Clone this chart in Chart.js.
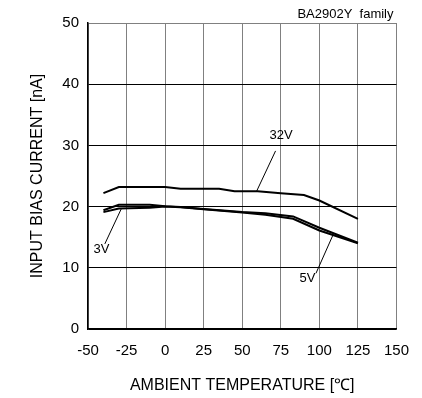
<!DOCTYPE html>
<html>
<head>
<meta charset="utf-8">
<script src="https://cdn.jsdelivr.net/npm/chart.js@4.4.1/dist/chart.umd.min.js"></script>
<style>
  html, body { margin: 0; padding: 0; background: #ffffff; }
  #wrap { width: 422px; height: 398px; position: relative; }
</style>
</head>
<body>
<div id="wrap"><canvas id="c" width="422" height="398"></canvas></div>
<script>
// ---- data ----
const xTickLabels = [-50, -25, 0, 25, 50, 75, 100, 125, 150];
const yTickLabels = [0, 10, 20, 30, 40, 50];

const temps32V = [-40, -30, 0, 10, 35, 45, 60, 75, 90, 100, 125];
const bias32V  = [22.2, 23.2, 23.2, 22.9, 22.9, 22.5, 22.5, 22.2, 21.9, 21.0, 18.0];

const temps3V = [-40, -30, -10, 0, 10, 25, 50, 65, 83, 100, 125];
const bias3V  = [19.4, 20.3, 20.3, 20.05, 19.95, 19.6, 19.1, 18.9, 18.4, 16.55, 14.1];

const temps5V = [-40, -30, -10, 0, 10, 25, 50, 65, 83, 100, 125];
const bias5V  = [19.1, 19.7, 19.8, 20.0, 19.9, 19.55, 19.05, 18.65, 18.0, 16.1, 14.0];

// curve labels: text, label position and leader line (data units)
const curveLabels   = ['32V', '3V', '5V'];
const labelAt       = [[75.2, 31.7], [-41.2, 13.0], [92.3, 8.3]];
const leaderFrom    = [[71.6, 29.1], [-39.1, 13.9], [97.8, 9.1]];
const leaderTo      = [[59.3, 22.5], [-28.5, 19.6], [108.9, 15.4]];

const familyText = 'BA2902Y  family';
const xTitle = 'AMBIENT TEMPERATURE [℃]';
const yTitle = 'INPUT BIAS CURRENT [nA]';

function pts(xs, ys) { return xs.map((x, i) => ({ x: x, y: ys[i] })); }

const FONT = "'Liberation Sans', Arial, sans-serif";

const annotPlugin = {
  id: 'annot',
  afterDatasetsDraw(chart) {
    const { ctx, scales: { x, y }, chartArea } = chart;
    ctx.save();
    ctx.strokeStyle = '#000';
    ctx.lineWidth = 1;
    for (let i = 0; i < curveLabels.length; i++) {
      ctx.beginPath();
      ctx.moveTo(x.getPixelForValue(leaderFrom[i][0]), y.getPixelForValue(leaderFrom[i][1]));
      ctx.lineTo(x.getPixelForValue(leaderTo[i][0]), y.getPixelForValue(leaderTo[i][1]));
      ctx.stroke();
      ctx.fillStyle = '#000';
      ctx.font = '13px ' + FONT;
      ctx.textAlign = 'center';
      ctx.textBaseline = 'middle';
      ctx.fillText(curveLabels[i], x.getPixelForValue(labelAt[i][0]), y.getPixelForValue(labelAt[i][1]));
    }
    ctx.font = '13px ' + FONT;
    ctx.textAlign = 'right';
    ctx.textBaseline = 'middle';
    ctx.fillStyle = '#000';
    ctx.fillText(familyText, chartArea.right - 3, chartArea.top - 9);
    ctx.restore();
  }
};

new Chart(document.getElementById('c'), {
  type: 'line',
  data: {
    datasets: [
      { label: '32V', data: pts(temps32V, bias32V) },
      { label: '3V',  data: pts(temps3V, bias3V) },
      { label: '5V',  data: pts(temps5V, bias5V) }
    ].map(d => Object.assign(d, {
      borderColor: '#000', borderWidth: 2, pointRadius: 0, tension: 0, fill: false
    }))
  },
  options: {
    responsive: false,
    animation: false,
    events: [],
    layout: { padding: { top: 23, right: 21, left: 0, bottom: 0 } },
    plugins: { legend: { display: false }, tooltip: { enabled: false } },
    scales: {
      x: {
        type: 'linear',
        min: xTickLabels[0], max: xTickLabels[xTickLabels.length - 1],
        afterBuildTicks(s) { s.ticks = xTickLabels.map(v => ({ value: v })); },
        afterFit(s) { s.height = 69; },
        ticks: { color: '#000', font: { family: FONT, size: 15 }, padding: 13, maxRotation: 0 },
        grid: {
          drawTicks: false,
          color: c => (c.tick && c.tick.value === 150) ? '#808080' : '#808080',
          lineWidth: 1
        },
        border: { color: '#000', width: 1.5 },
        title: { display: true, text: xTitle, color: '#000',
                 font: { family: FONT, size: 16 }, padding: { top: 0, bottom: 3 } }
      },
      y: {
        min: yTickLabels[0], max: yTickLabels[yTickLabels.length - 1],
        afterBuildTicks(s) { s.ticks = yTickLabels.map(v => ({ value: v })); },
        afterFit(s) { s.width = 88; },
        ticks: { color: '#000', font: { family: FONT, size: 15 }, padding: 9 },
        grid: {
          drawTicks: false,
          color: c => (c.tick && c.tick.value === 50) ? '#808080' : '#000',
          lineWidth: 1
        },
        border: { color: '#000', width: 1.5 },
        title: { display: true, text: yTitle, color: '#000',
                 font: { family: FONT, size: 16 }, padding: { top: 28, bottom: 0 } }
      }
    }
  },
  plugins: [annotPlugin]
});
</script>
</body>
</html>
